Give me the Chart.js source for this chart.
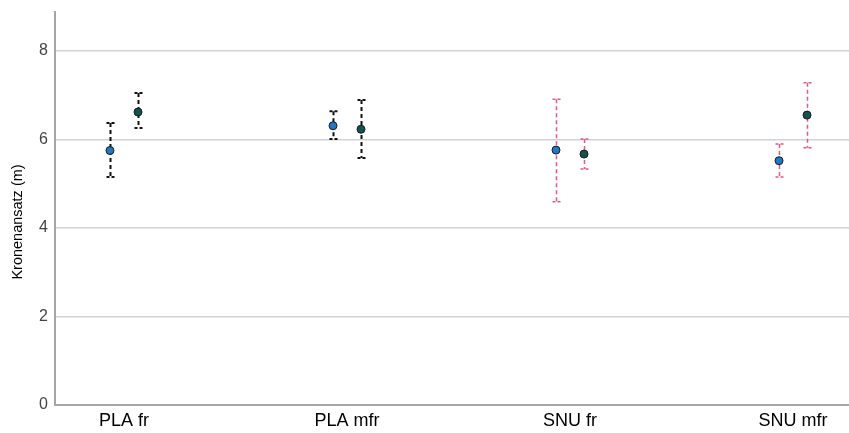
<!DOCTYPE html>
<html><head><meta charset="utf-8">
<script src="https://cdn.jsdelivr.net/npm/chart.js@4/dist/chart.umd.min.js"></script>
<style>html,body{margin:0;padding:0;background:#fff}#wrap{width:849px;height:433px}</style>
</head><body><div id="wrap"><canvas id="c" width="849" height="433"></canvas></div>
<script>
const categories = ['PLA fr', 'PLA mfr', 'SNU fr', 'SNU mfr'];
const mean1 = [5.75, 6.31, 5.76, 5.52];
const low1  = [5.15, 6.01, 4.59, 5.15];
const high1 = [6.37, 6.64, 6.91, 5.90];
const mean2 = [6.62, 6.23, 5.67, 6.55];
const low2  = [6.26, 5.58, 5.33, 5.81];
const high2 = [7.05, 6.89, 6.01, 7.28];
const yTicks = [0, 2, 4, 6, 8];
const yTitle = 'Kronenansatz (m)';
const errColors = ['#111111', '#111111', '#e5577f', '#e5577f'];
const errWidths = [2, 2, 1.5, 1.5];
const off = 0.0628;

const pts1 = categories.map((c, i) => ({x: i - off, y: mean1[i]}));
const pts2 = categories.map((c, i) => ({x: i + off, y: mean2[i]}));

const errPlugin = {
  id: 'err',
  beforeDatasetsDraw(chart) {
    const ctx = chart.ctx, xs = chart.scales.x, ys = chart.scales.y;
    const groups = [[-off, low1, high1], [off, low2, high2]];
    ctx.save();
    categories.forEach((c, i) => {
      groups.forEach(([o, lo, hi]) => {
        const x = Math.round(xs.getPixelForValue(i + o)) + 0.5;
        const yl = ys.getPixelForValue(lo[i]);
        const yh = ys.getPixelForValue(hi[i]);
        ctx.strokeStyle = errColors[i];
        ctx.lineWidth = errWidths[i];
        ctx.setLineDash([4, 3]);
        ctx.beginPath();
        ctx.moveTo(x, yh); ctx.lineTo(x, yl);
        ctx.stroke();
        ctx.setLineDash([3, 2]);
        ctx.beginPath();
        ctx.moveTo(x - 4, yh); ctx.lineTo(x + 5, yh);
        ctx.moveTo(x - 4, yl); ctx.lineTo(x + 5, yl);
        ctx.stroke();
      });
    });
    ctx.restore();
  },
  afterDraw(chart) {
    const ctx = chart.ctx;
    ctx.save();
    ctx.translate(18, 222);
    ctx.rotate(-Math.PI / 2);
    ctx.font = '14.5px "Liberation Sans", Arial, sans-serif';
    ctx.fillStyle = '#000';
    ctx.textAlign = 'center';
    ctx.textBaseline = 'middle';
    ctx.fillText(yTitle, 0, 0);
    ctx.restore();
  }
};

new Chart(document.getElementById('c'), {
  type: 'scatter',
  data: {
    datasets: [
      {data: pts1, backgroundColor: '#1f78c8', borderColor: '#1a1a1a', borderWidth: 1, pointRadius: 4, pointHoverRadius: 4},
      {data: pts2, backgroundColor: '#145252', borderColor: '#1a1a1a', borderWidth: 1, pointRadius: 4, pointHoverRadius: 4}
    ]
  },
  options: {
    responsive: false,
    animation: false,
    events: [],
    layout: {autoPadding: false, padding: {top: 12, right: 0, left: 0, bottom: 0}},
    plugins: {legend: {display: false}, tooltip: {enabled: false}},
    scales: {
      x: {
        type: 'linear',
        min: -0.3094,
        max: 3.251,
        afterBuildTicks(s) { s.ticks = categories.map((c, i) => ({value: i})); },
        afterFit(s) { s.height = 28; s.paddingLeft = 0; s.paddingRight = 0; },
        grid: {display: false, drawTicks: false},
        border: {color: '#a6a6a6', width: 2},
        ticks: {
          padding: 5,
          color: '#000',
          font: {family: 'Liberation Sans, Arial, sans-serif', size: 18},
          callback: (v) => categories[v] !== undefined ? categories[v] : ''
        }
      },
      y: {
        min: 0,
        max: 8.88,
        afterBuildTicks(s) { s.ticks = yTicks.map(v => ({value: v})); },
        afterFit(s) { s.width = 55; s.paddingTop = 0; s.paddingBottom = 0; },
        grid: {color: (c) => c.tick && c.tick.value === 0 ? 'rgba(0,0,0,0)' : '#d2d2d2', lineWidth: 1.5, drawTicks: false},
        border: {color: '#a6a6a6', width: 2},
        ticks: {
          padding: 7,
          color: '#444',
          font: {family: 'Liberation Sans, Arial, sans-serif', size: 16}
        },
        title: {display: false}
      }
    }
  },
  plugins: [errPlugin]
});
</script></body></html>
